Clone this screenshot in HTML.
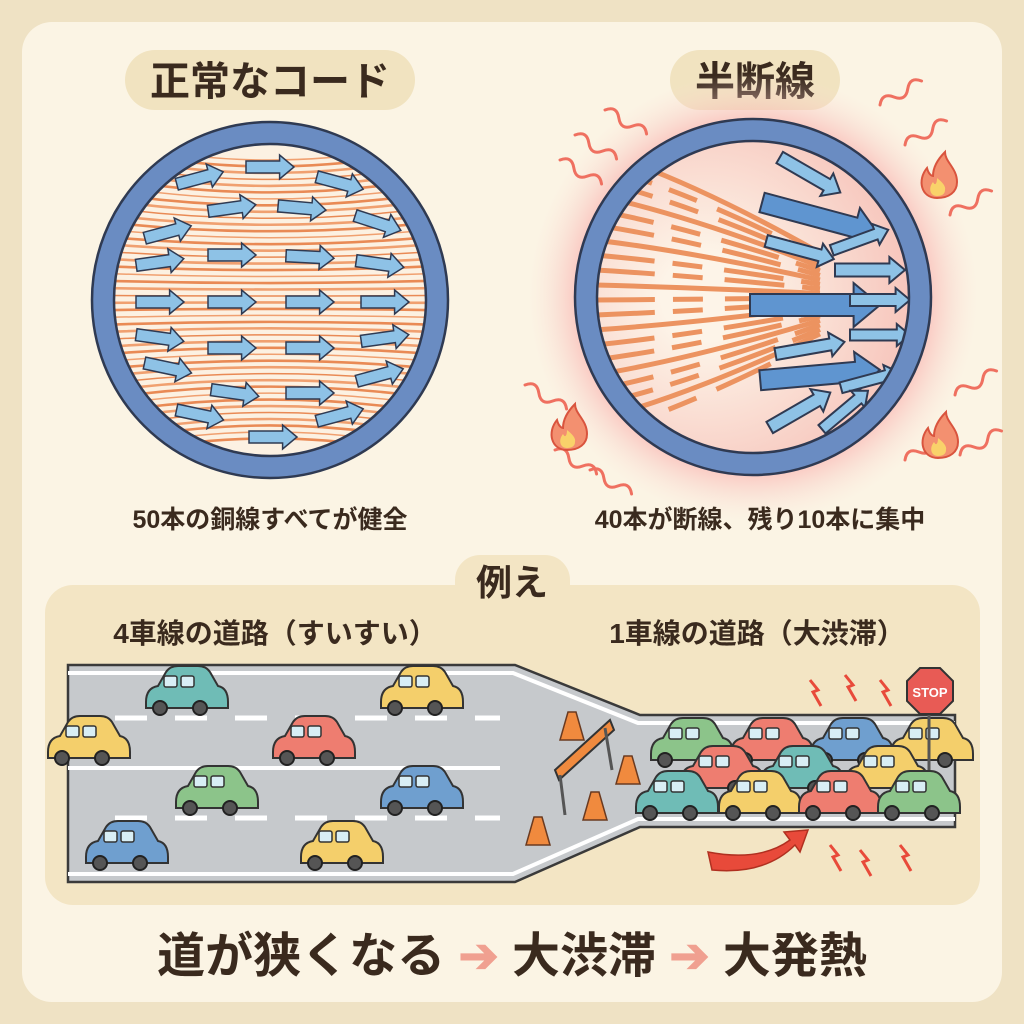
<!DOCTYPE html>
<html><head><meta charset="utf-8">
<style>
html,body{margin:0;padding:0;background:#efe2c4;}
svg{display:block}
text{font-family:"Liberation Sans","Noto Sans CJK JP",sans-serif;font-weight:bold;fill:#3a2a1e}
</style></head>
<body>
<svg id="s" width="1024" height="1024" viewBox="0 0 1024 1024" xmlns="http://www.w3.org/2000/svg">
<defs>
<radialGradient id="glow" cx="0.5" cy="0.5" r="0.5">
<stop offset="0.7" stop-color="#f7a0a0" stop-opacity="0.9"/>
<stop offset="1" stop-color="#fbe0d8" stop-opacity="0"/>
</radialGradient>
<radialGradient id="inR" cx="0.35" cy="0.5" r="0.7">
<stop offset="0.2" stop-color="#fdf4e8"/>
<stop offset="1" stop-color="#f6c1b8"/>
</radialGradient>
<clipPath id="cl"><circle cx="270" cy="300" r="157"/></clipPath>
<clipPath id="cr"><circle cx="753" cy="297" r="157"/></clipPath>
</defs>
<rect x="22" y="22" width="980" height="980" rx="30" fill="#fbf4e4"/>
<rect x="125" y="50" width="290" height="60" rx="30" fill="#f1e3c0"/>
<text x="270" y="95" font-size="40" text-anchor="middle">正常なコード</text>
<rect x="670" y="50" width="170" height="60" rx="30" fill="#f1e3c0"/>
<text x="755" y="95" font-size="40" text-anchor="middle">半断線</text>
<circle cx="753" cy="297" r="225" fill="url(#glow)"/>
<circle cx="270" cy="300" r="157" fill="#fcf1e2"/>
<g id="wl" clip-path="url(#cl)"></g>
<g id="al"></g>
<circle cx="270" cy="300" r="167" fill="none" stroke="#6a8cc2" stroke-width="22"/>
<circle cx="270" cy="300" r="178" fill="none" stroke="#2f3a52" stroke-width="2.5"/>
<circle cx="270" cy="300" r="156" fill="none" stroke="#2f3a52" stroke-width="2.5"/>
<circle cx="753" cy="297" r="157" fill="url(#inR)"/>
<g id="wr" clip-path="url(#cr)"></g>
<g id="ar" clip-path="url(#cr)"></g>
<circle cx="753" cy="297" r="167" fill="none" stroke="#6a8cc2" stroke-width="22"/>
<circle cx="753" cy="297" r="178" fill="none" stroke="#2f3a52" stroke-width="2.5"/>
<circle cx="753" cy="297" r="156" fill="none" stroke="#2f3a52" stroke-width="2.5"/>
<g id="fx"></g>
<text x="270" y="528" font-size="25" text-anchor="middle">50本の銅線すべてが健全</text>
<text x="760" y="528" font-size="25" text-anchor="middle">40本が断線、残り10本に集中</text>
<rect x="45" y="585" width="935" height="320" rx="28" fill="#f3e5c4"/>
<rect x="455" y="555" width="115" height="55" rx="25" fill="#f3e5c4"/>
<text x="512" y="595" font-size="36" text-anchor="middle">例え</text>
<text x="275" y="643" font-size="28" text-anchor="middle">4車線の道路（すいすい）</text>
<text x="757" y="643" font-size="28" text-anchor="middle">1車線の道路（大渋滞）</text>
<path d="M68 665 L515 665 L640 715 L955 715 L955 827 L640 827 L515 882 L68 882 Z" fill="#c6c9cc" stroke="#3a3a3a" stroke-width="2.5"/>
<path d="M68 673 L513 673 L638 723 L955 723 M68 874 L513 874 L638 819 L955 819" fill="none" stroke="#fff" stroke-width="4"/>
<path d="M115 718 H500 M115 818 H500" stroke="#fff" stroke-width="5" stroke-dasharray="32 28"/>
<path d="M68 768 H500" stroke="#fff" stroke-width="4"/>
<g id="cars"></g>
<text x="512" y="972" font-size="48" text-anchor="middle">道が狭くなる <tspan fill="#f0a090">➔</tspan> 大渋滞 <tspan fill="#f0a090">➔</tspan> 大発熱</text>
</svg>
<script>
const NS="http://www.w3.org/2000/svg";
function el(p,t,a){const e=document.createElementNS(NS,t);for(const k in a)e.setAttribute(k,a[k]);document.getElementById(p).appendChild(e);return e;}
for(let i=0;i<44;i++){const y=140+i*7.4;const bow=(y-300)*0.25;
el("wl","path",{d:`M100 ${y} Q270 ${y-bow} 440 ${y}`,fill:"none",stroke:i%2?"#e98a55":"#f0a070","stroke-width":i%3==0?1.5:2.6});}
function arrow(g,x,y,w,h,ang,fill,sw){const hw=h*0.5;
el(g,"path",{d:`M${-w/2} ${-hw/2} H${w/2-h*0.6} V${-hw} L${w/2} 0 L${w/2-h*0.6} ${hw} V${hw/2} H${-w/2} Z`,fill:fill,stroke:"#2f3a52","stroke-width":sw||1.5,transform:`translate(${x} ${y}) rotate(${ang})`});}
const L=[[200,178,-15],[270,167,0],[340,183,15],[232,208,-8],[302,208,5],[378,223,18],[168,232,-15],[160,262,-8],[232,255,0],[310,257,3],[380,264,8],[160,302,0],[232,302,0],[310,302,0],[385,302,0],[160,338,8],[232,348,0],[310,348,0],[385,338,-8],[168,368,12],[235,393,8],[310,393,0],[380,375,-15],[200,415,12],[273,437,0],[340,415,-15]];
L.forEach(a=>arrow("al",a[0],a[1],48,24,a[2],"#8ec2e6"));
for(let i=0;i<20;i++){const y=150+i*15;el("wr","path",{d:`M595 ${y} Q690 ${y+(y-297)*-0.2} 820 ${297+(y-297)*0.3}`,fill:"none",stroke:"#ec9360","stroke-width":5,"stroke-dasharray":i%3==0?"":"60 18 30 22"});}
const R=[[810,175,30,70,26,"#8ec2e6"],[820,218,15,120,40,"#5f95d0"],[860,240,-20,60,22,"#8ec2e6"],[800,250,15,70,24,"#8ec2e6"],[870,270,0,70,26,"#8ec2e6"],[815,305,0,130,44,"#5f95d0"],[880,300,0,60,24,"#8ec2e6"],[880,335,0,60,22,"#8ec2e6"],[810,348,-10,70,24,"#8ec2e6"],[820,375,-5,120,40,"#5f95d0"],[870,380,-15,60,22,"#8ec2e6"],[800,410,-30,70,26,"#8ec2e6"],[845,410,-40,60,22,"#8ec2e6"]];
R.forEach(a=>arrow("ar",a[0],a[1],a[3],a[4],a[2],a[5],2));
[[575,135],[605,110],[560,160],[880,105],[905,145],[950,215],[525,385],[555,450],[590,470],[955,395],[960,455],[905,460]].forEach(p=>{
el("fx","path",{d:`M${p[0]} ${p[1]} q8 -10 16 0 t16 0 t16 0`,fill:"none",stroke:"#ef7060","stroke-width":3,"stroke-linecap":"round",transform:`rotate(${(p[0]>750?-30:30)} ${p[0]} ${p[1]})`});});
function flame(x,y){el("fx","path",{d:`M${x} ${y+18} c-16 0 -20 -18 -10 -30 c2 8 6 8 6 8 c0 -10 6 -18 12 -24 c0 10 12 16 12 30 c0 10 -8 16 -20 16z`,fill:"#f39070",stroke:"#d9543e","stroke-width":2});
el("fx","path",{d:`M${x} ${y+16} c-7 0 -9 -8 -4 -14 c2 4 4 2 4 -4 c5 4 9 8 8 12 c0 4 -3 6 -8 6z`,fill:"#f9d26a"});}
flame(937,180);flame(567,432);flame(938,440);
function car(x,y,c){
el("cars","path",{d:`M${x-34} ${y+12} q0 -14 12 -16 l8 -14 q4 -6 12 -6 h20 q8 0 12 6 l8 14 q10 2 10 16 v6 h-82z`,fill:c,stroke:"#333","stroke-width":2});
el("cars","rect",{x:x-16,y:y-14,width:13,height:11,rx:2,fill:"#d8eef5",stroke:"#333","stroke-width":1.5});
el("cars","rect",{x:x+1,y:y-14,width:13,height:11,rx:2,fill:"#d8eef5",stroke:"#333","stroke-width":1.5});
[x-20,x+20].forEach(cx=>el("cars","circle",{cx:cx,cy:y+18,r:7,fill:"#555",stroke:"#222","stroke-width":2}));}
const T="#6fbcb6",Y="#f4cf6b",Rd="#ee7d70",G="#8cc48a",B="#6f9fcf";
[[180,690,T],[415,690,Y],[82,740,Y],[307,740,Rd],[210,790,G],[415,790,B],[120,845,B],[335,845,Y],
[685,742,G],[765,742,Rd],[845,742,B],[925,742,Y],[715,770,Rd],[795,770,T],[880,770,Y],[670,795,T],[753,795,Y],[833,795,Rd],[912,795,G]].forEach(a=>car(a[0],a[1],a[2]));
[[572,728],[628,772],[595,808],[538,833]].forEach(p=>el("cars","path",{d:`M${p[0]-12} ${p[1]+12} h24 l-8 -28 h-8z`,fill:"#f08a3e",stroke:"#6a3a20","stroke-width":1.5}));
el("cars","path",{d:"M555 770 L610 720 L614 730 L559 780Z",fill:"#f08a3e",stroke:"#333","stroke-width":2});
el("cars","path",{d:"M560 775 L565 815 M605 728 L612 770",stroke:"#555","stroke-width":3});
el("cars","line",{x1:929,y1:710,x2:929,y2:770,stroke:"#555","stroke-width":3});
el("cars","polygon",{points:"920,668 940,668 953,681 953,701 940,714 920,714 907,701 907,681",fill:"#e85b55",stroke:"#333","stroke-width":2});
const st=el("cars","text",{x:930,y:697,"font-size":13,"text-anchor":"middle"});st.textContent="STOP";st.style.fill="#fff";
el("cars","path",{d:"M708 852 Q760 862 790 840 L784 832 L808 830 L800 852 L795 845 Q765 875 712 870Z",fill:"#e84a3a",stroke:"#b03020","stroke-width":1.5});
[[810,680],[845,675],[880,680],[830,845],[860,850],[900,845]].forEach(p=>el("cars","path",{d:`M${p[0]} ${p[1]} l8 10 l-5 2 l8 14`,fill:"none",stroke:"#e84a3a","stroke-width":3}));
</script>
</body></html>
